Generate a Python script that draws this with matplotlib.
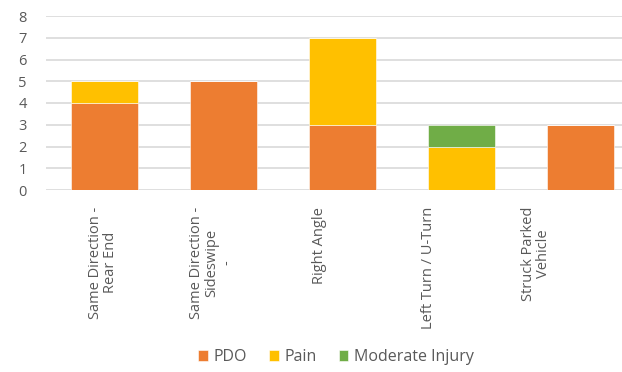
import numpy as np
import matplotlib
matplotlib.use("Agg")
from matplotlib import pyplot as plt

plt.rcParams["font.family"] = ["Open Sans", "DejaVu Sans"]

collision_types = [
    "Same Direction -\nRear End",
    "Same Direction -\nSideswipe\n-",
    "Right Angle",
    "Left Turn / U-Turn",
    "Struck Parked\nVehicle",
]
pdo = [4, 5, 3, 0, 3]
pain = [1, 0, 4, 2, 0]
moderate_injury = [0, 0, 0, 1, 0]

colors = {"PDO": "#ED7D31", "Pain": "#FFC000", "Moderate Injury": "#70AD47"}
text_color = "#595959"

fig = plt.figure(figsize=(6.22, 3.72), dpi=100)
ax = fig.add_axes([46 / 622, 1 - 190 / 372, 576 / 622, 174 / 372])

x = np.arange(len(collision_types))
bottom = np.zeros(len(x))
for name, values in [("PDO", pdo), ("Pain", pain), ("Moderate Injury", moderate_injury)]:
    ax.bar(x, values, width=0.56, bottom=bottom, color=colors[name], label=name,
           edgecolor="white", linewidth=0.4, zorder=3)
    bottom += np.array(values)

ax.set_ylim(0, 8)
ax.set_xlim(-0.4916, 4.349)
ax.set_yticks(range(0, 9))
ax.yaxis.grid(True, color="#D9D9D9", linewidth=1.2, zorder=0)
ax.set_axisbelow(True)
for spine in ax.spines.values():
    spine.set_visible(False)

# category labels sit on a slightly narrower pitch than the bars
label_pos = x * 0.91 - 0.01
ax.set_xticks(label_pos)
ax.set_xticklabels(collision_types, rotation=90, ha="center", va="top",
                   multialignment="center", fontsize=10.5, color=text_color,
                   linespacing=1.0)
ax.tick_params(axis="x", length=0, pad=12)
ax.tick_params(axis="y", length=0, pad=14, labelsize=10.5, labelcolor=text_color)

fig.legend(loc="center", bbox_to_anchor=(0.54, 0.04), ncol=3, frameon=False,
           fontsize=11.5, labelcolor=text_color, handlelength=0.6, handleheight=0.6,
           handletextpad=0.35, columnspacing=1.4)

fig.savefig("out.png", dpi=100)
